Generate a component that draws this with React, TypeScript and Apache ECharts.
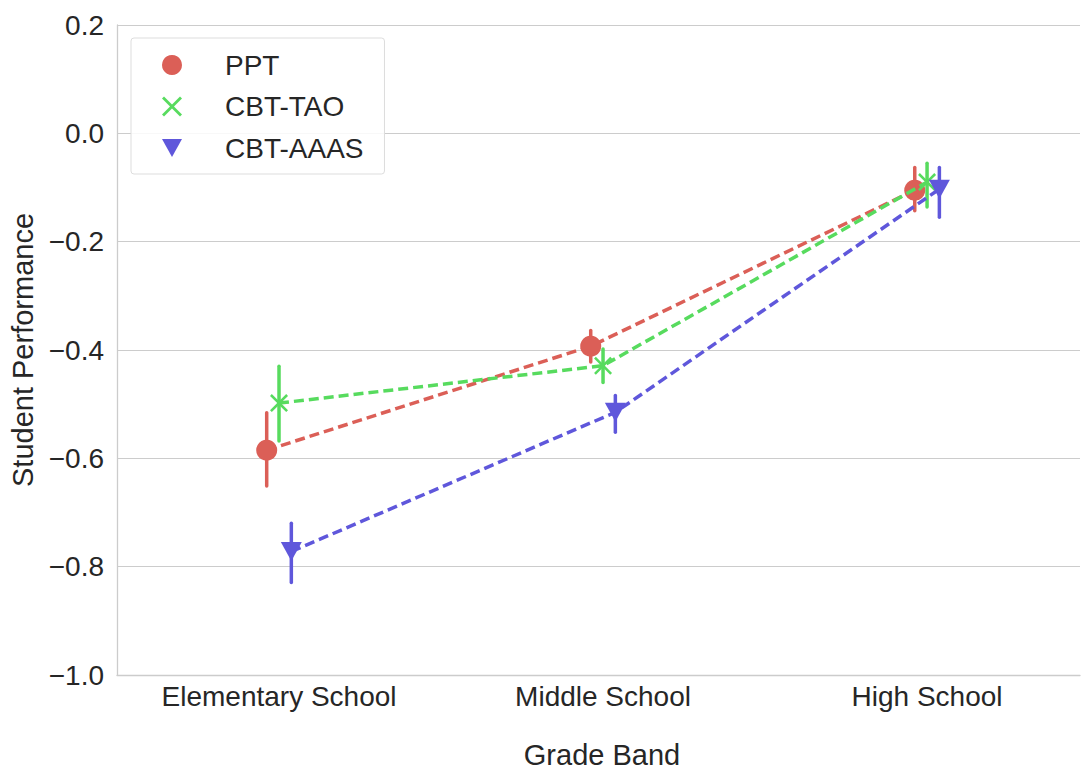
import React, { useEffect, useRef } from "react";
import * as echarts from "echarts";

const categories = ["Elementary School", "Middle School", "High School"];
const seriesNames = ["PPT", "CBT-TAO", "CBT-AAAS"];
const colors = ["#db5f57", "#57db5e", "#5f57db"];

const pptMean = [-0.585, -0.393, -0.105];
const pptLow = [-0.651, -0.422, -0.143];
const pptHigh = [-0.516, -0.364, -0.063];

const taoMean = [-0.498, -0.429, -0.09];
const taoLow = [-0.568, -0.46, -0.136];
const taoHigh = [-0.43, -0.398, -0.055];

const aaasMean = [-0.772, -0.515, -0.103];
const aaasLow = [-0.829, -0.552, -0.155];
const aaasHigh = [-0.72, -0.484, -0.063];

const yTicks = [0.2, 0.0, -0.2, -0.4, -0.6, -0.8, -1.0];

const X_PATH =
  "path://M2,0 L10,8 L18,0 L20,2 L12,10 L20,18 L18,20 L10,12 L2,20 L0,18 L8,10 L0,2 Z";
const TRI_PATH = "path://M0,0 L20,0 L10,18 Z";

const symbols = ["circle", X_PATH, TRI_PATH];
const symbolSizes: any[] = [21, 18, [21, 19]];
const dodge = [-0.038, 0, 0.038];
const FONT = "Liberation Sans, Arial, sans-serif";
const TEXT = "#262626";

export default function App() {
  const ref = useRef<HTMLDivElement>(null);
  useEffect(() => {
    if (!ref.current) return;
    const chart = echarts.init(ref.current, undefined, { renderer: "svg" });
    const means = [pptMean, taoMean, aaasMean];
    const lows = [pptLow, taoLow, aaasLow];
    const highs = [pptHigh, taoHigh, aaasHigh];
    const series: any[] = [];
    seriesNames.forEach((name, i) => {
      const color = colors[i];
      series.push({
        type: "custom",
        name: name + " CI",
        silent: true,
        z: 2 + i * 3,
        renderItem: (params: any, api: any) => {
          const x = api.value(0);
          const p1 = api.coord([x, api.value(1)]);
          const p2 = api.coord([x, api.value(2)]);
          return {
            type: "line",
            shape: { x1: p1[0], y1: p1[1], x2: p2[0], y2: p2[1] },
            style: { stroke: color, lineWidth: 3.5, lineCap: "round" },
          };
        },
        encode: { x: 0, y: [1, 2] },
        data: categories.map((_, k) => [k + dodge[i], lows[i][k], highs[i][k]]),
      });
      series.push({
        type: "line",
        name,
        z: 3 + i * 3,
        symbol: symbols[i],
        symbolSize: symbolSizes[i],
        showSymbol: true,
        itemStyle: { color, opacity: 1 },
        lineStyle: { color, width: 3.5, type: [10, 5] },
        data: categories.map((_, k) => [k + dodge[i], means[i][k]]),
      });
    });
    chart.setOption({
      animation: false,
      backgroundColor: "#ffffff",
      textStyle: { fontFamily: FONT },
      grid: { left: 117, top: 25, right: 0, height: 653, containLabel: false },
      legend: {
        left: 131,
        top: 38,
        orient: "vertical",
        padding: [13, 21, 12, 31],
        itemWidth: 20,
        itemHeight: 20,
        itemGap: 13.5,
        backgroundColor: "rgba(255,255,255,0.85)",
        borderColor: "#dddddd",
        borderWidth: 1,
        borderRadius: 3,
        textStyle: {
          fontFamily: FONT,
          fontSize: 28,
          color: TEXT,
          lineHeight: 28,
          padding: [0, 0, 0, 38],
        },
        data: seriesNames.map((n, i) => ({
          name: n,
          icon: symbols[i],
          itemStyle: { color: colors[i] },
        })),
      },
      xAxis: {
        type: "value",
        min: -0.5,
        max: 2.472,
        interval: 0.5,
        name: "Grade Band",
        nameLocation: "middle",
        nameGap: 65,
        nameTextStyle: {
          fontFamily: FONT,
          fontSize: 29,
          color: TEXT,
          padding: [0, 0, 0, 7],
        },
        axisLine: {
          show: true,
          onZero: false,
          lineStyle: { color: "#cccccc", width: 1.3 },
        },
        axisTick: { show: false },
        splitLine: { show: false },
        axisLabel: {
          fontFamily: FONT,
          fontSize: 28,
          color: TEXT,
          margin: 7,
          showMinLabel: true,
          showMaxLabel: true,
          formatter: (v: number) => {
            const r = Math.round(v);
            return Math.abs(v - r) < 1e-6 && categories[r] ? categories[r] : "";
          },
        },
      },
      yAxis: {
        type: "value",
        min: yTicks[yTicks.length - 1],
        max: yTicks[0],
        interval: 0.2,
        name: "Student Performance",
        nameLocation: "middle",
        nameGap: 74,
        nameTextStyle: { fontFamily: FONT, fontSize: 29, color: TEXT },
        axisLine: {
          show: true,
          onZero: false,
          lineStyle: { color: "#cccccc", width: 1.3 },
        },
        axisTick: { show: false },
        splitLine: { show: true, lineStyle: { color: "#cccccc", width: 1.2 } },
        axisLabel: {
          fontFamily: FONT,
          fontSize: 28,
          color: TEXT,
          margin: 13,
          formatter: (v: number) => {
            const s = (Math.abs(v) < 1e-9 ? 0 : v).toFixed(1);
            return s.replace("-", "\u2212");
          },
        },
      },
      series,
    });
    return () => chart.dispose();
  }, []);
  return (
    <div
      ref={ref}
      style={{ position: "absolute", left: 0, top: 0, width: 1083, height: 774 }}
    />
  );
}
